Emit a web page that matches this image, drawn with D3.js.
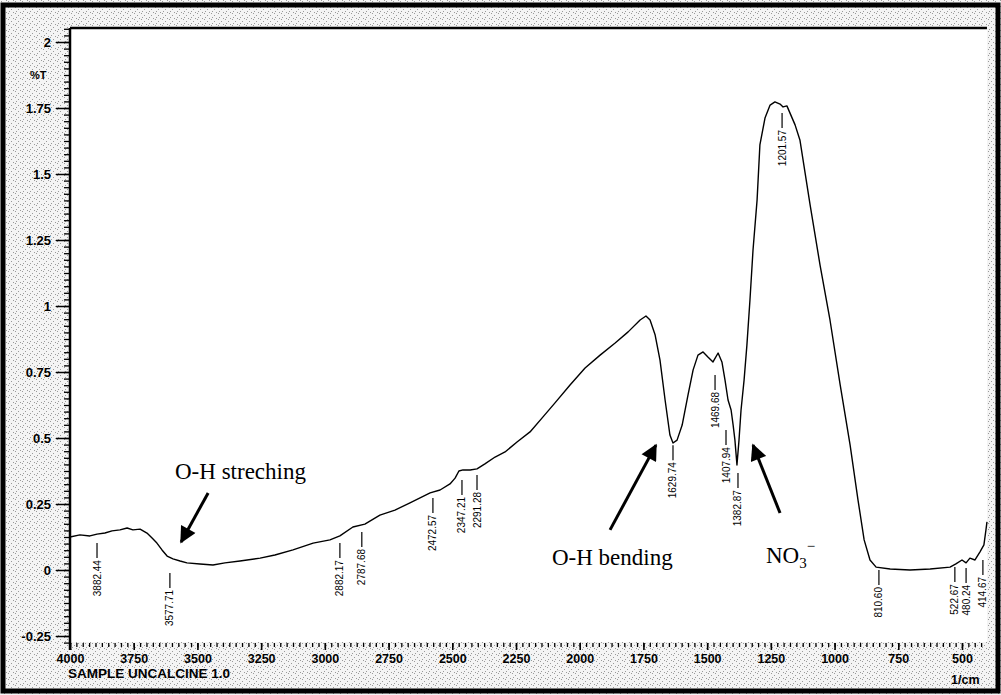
<!DOCTYPE html>
<html><head><meta charset="utf-8">
<script src="https://cdn.jsdelivr.net/npm/d3@7"></script>
<style>body{margin:0;background:#fff}svg{display:block}</style>
</head><body>
<script>
// ---- data ----
const wavenumbers = [4000,3961,3922,3894,3863,3835,3804,3776,3753,3725,3698,3678,3659,3639,3619,3596,3568,3541,3490,3439,3392,3333,3254,3196,3125,3046,2980,2941,2890,2843,2784,2725,2666,2587,2548,2509,2489,2474,2458,2430,2403,2372,2332,2293,2246,2195,2144,2097,2038,1979,1920,1861,1810,1763,1740,1724,1704,1685,1665,1646,1634,1618,1598,1575,1555,1536,1516,1497,1477,1457,1442,1430,1418,1406,1398,1391,1383,1375,1367,1355,1344,1332,1320,1304,1293,1273,1253,1234,1214,1202,1187,1155,1136,1096,1057,1018,978,939,908,884,861,837,782,704,625,547,524,500,484,469,449,430,414,406,402];
const transmittance = [0.125,0.133,0.129,0.136,0.140,0.148,0.152,0.159,0.152,0.155,0.140,0.121,0.102,0.076,0.053,0.042,0.034,0.027,0.023,0.019,0.027,0.034,0.045,0.057,0.076,0.102,0.114,0.129,0.163,0.174,0.208,0.227,0.254,0.292,0.303,0.326,0.348,0.375,0.379,0.379,0.383,0.402,0.428,0.447,0.485,0.523,0.580,0.633,0.701,0.765,0.814,0.860,0.902,0.947,0.962,0.947,0.890,0.795,0.644,0.511,0.481,0.492,0.549,0.663,0.758,0.814,0.826,0.807,0.788,0.822,0.788,0.720,0.644,0.606,0.549,0.492,0.398,0.492,0.606,0.720,0.852,1.023,1.212,1.402,1.610,1.712,1.761,1.773,1.765,1.754,1.758,1.686,1.629,1.383,1.155,0.947,0.701,0.473,0.265,0.114,0.038,0.011,0.004,0.000,0.004,0.011,0.023,0.038,0.027,0.045,0.038,0.068,0.095,0.152,0.182];

const yTickValues = [-0.25,0,0.25,0.5,0.75,1,1.25,1.5,1.75,2];
const yTickLabels = ["-0.25","0","0.25","0.5","0.75","1","1.25","1.5","1.75","2"];
const xTickValues = [4000,3750,3500,3250,3000,2750,2500,2250,2000,1750,1500,1250,1000,750,500];
const xTickLabels = ["4000","3750","3500","3250","3000","2750","2500","2250","2000","1750","1500","1250","1000","750","500"];

const peakTexts     = ["3882.44","3577.71","2882.17","2787.68","2472.57","2347.21","2291.28","1629.74","1469.68","1407.94","1382.87","1201.57","810.60","522.67","480.24","414.67"];
const peakPositions = [3894,3608,2941,2855,2576,2462,2403,1634,1469,1426,1379,1206,826,528,484,418];
const peakTops      = [0.102,-0.011,0.102,0.144,0.273,0.341,0.360,0.473,0.739,0.530,0.367,1.731,0.0,0.011,0.008,0.038];

const annoTexts = ["O-H streching","O-H bending"];
const annoPos   = [[3588,0.345],[2109,0.019]];
const arrowTails = [[3458,0.292],[1881,0.152],[1214,0.216]];
const arrowHeads = [[3564,0.106],[1701,0.473],[1320,0.473]];
const nitratePos = [1269,0.027];

// ---- layout ----
const W = 1001, H = 695;
const x = d3.scaleLinear().domain([4000,500]).range([70,962]);
const y = d3.scaleLinear().domain([0,2]).range([570,42]);
const plotRight = x(402), plotTop = 28, plotBottom = 642;

const svg = d3.select("body").append("svg").attr("width",W).attr("height",H);
const defs = svg.append("defs");
const pat = defs.append("pattern").attr("id","speck").attr("width",7).attr("height",6).attr("patternUnits","userSpaceOnUse");
pat.append("rect").attr("width",7).attr("height",6).attr("fill","#f4f4f4");
[[1,1],[4,3],[2,5],[6,0]].forEach(p=>pat.append("rect").attr("x",p[0]).attr("y",p[1]).attr("width",1).attr("height",1).attr("fill","#9a9a9a"));
defs.append("marker").attr("id","ah").attr("viewBox","0 0 10 10").attr("refX",9).attr("refY",5)
  .attr("markerWidth",6).attr("markerHeight",5.5).attr("orient","auto").attr("markerUnits","strokeWidth")
  .append("path").attr("d","M0,0 L10,5 L0,10 Z").attr("fill","#000");

svg.append("rect").attr("width",W).attr("height",H).attr("fill","url(#speck)");
svg.append("rect").attr("x",x(4000)).attr("y",plotTop).attr("width",plotRight-x(4000)).attr("height",plotBottom-plotTop).attr("fill","#fff");
// outer frame
svg.append("rect").attr("x",3).attr("y",5).attr("width",W-6).attr("height",H-9).attr("fill","none").attr("stroke","#000").attr("stroke-width",5);
// top border line
svg.append("line").attr("x1",x(4000)).attr("x2",plotRight).attr("y1",plotTop).attr("y2",plotTop).attr("stroke","#000").attr("stroke-width",2.5);

const boldFont = "'Liberation Sans', Arial, sans-serif";

// y axis
const gy = svg.append("g").attr("transform",`translate(${x(4000)},0)`);
gy.call(d3.axisLeft(y).tickValues(d3.range(-0.275,2.06,0.025)).tickSize(6).tickFormat(""))
  .call(g=>g.select(".domain").remove());
gy.selectAll(".tick line").attr("stroke","#000").attr("stroke-width",1.3);
const gy2 = svg.append("g").attr("transform",`translate(${x(4000)},0)`);
gy2.call(d3.axisLeft(y).tickValues(yTickValues).tickSize(14).tickPadding(5).tickFormat((d,i)=>yTickLabels[i]))
  .call(g=>g.select(".domain").remove());
gy2.selectAll(".tick line").attr("stroke","#000").attr("stroke-width",1.5);
gy2.selectAll(".tick text").attr("font-family",boldFont).attr("font-weight","bold").attr("font-size",13).attr("fill","#000");
svg.append("line").attr("x1",x(4000)).attr("x2",x(4000)).attr("y1",plotTop).attr("y2",650).attr("stroke","#000").attr("stroke-width",2.5);
svg.append("text").attr("x",30).attr("y",79).attr("font-family",boldFont).attr("font-weight","bold").attr("font-size",11).text("%T");

// x axis
const gx = svg.append("g").attr("transform",`translate(0,${plotBottom+1})`);
gx.call(d3.axisBottom(x).tickValues(d3.range(4000,401,-25)).tickSize(4).tickFormat(""))
  .call(g=>g.select(".domain").remove());
gx.selectAll(".tick line").attr("stroke","#000").attr("stroke-width",1.3);
const gx2 = svg.append("g").attr("transform",`translate(0,${plotBottom+1})`);
gx2.call(d3.axisBottom(x).tickValues(xTickValues).tickSize(7).tickPadding(4).tickFormat((d,i)=>xTickLabels[i]))
  .call(g=>g.select(".domain").remove());
gx2.selectAll(".tick line").attr("stroke","#000").attr("stroke-width",1.6);
gx2.selectAll(".tick text").attr("font-family",boldFont).attr("font-weight","bold").attr("font-size",12.5).attr("fill","#000");
svg.append("text").attr("x",68).attr("y",678).attr("font-family",boldFont).attr("font-weight","bold").attr("font-size",13.5).text("SAMPLE UNCALCINE 1.0");
svg.append("text").attr("x",951).attr("y",684).attr("font-family",boldFont).attr("font-weight","bold").attr("font-size",12.5).text("1/cm");

// spectrum
const pts = wavenumbers.map((w,i)=>[w,transmittance[i]]);
svg.append("path").datum(pts)
  .attr("d",d3.line().x(d=>x(d[0])).y(d=>y(d[1])))
  .attr("fill","none").attr("stroke","#000").attr("stroke-width",1.4).attr("stroke-linejoin","round");

// peak labels
const lineLen = 15;
peakTexts.forEach((t,i)=>{
  const px = x(peakPositions[i]), py = y(peakTops[i]);
  svg.append("line").attr("x1",px).attr("x2",px).attr("y1",py).attr("y2",py+lineLen).attr("stroke","#000").attr("stroke-width",1.2);
  svg.append("text").attr("transform",`translate(${px+3.5},${py+lineLen+2}) rotate(-90)`)
    .attr("text-anchor","end").attr("font-family","'Liberation Sans', Arial, sans-serif").attr("font-size",10)
    .attr("fill","#000").text(t);
});

// annotations
const serif = "'Liberation Serif','Times New Roman',serif";
annoTexts.forEach((t,i)=>{
  svg.append("text").attr("x",x(annoPos[i][0])).attr("y",y(annoPos[i][1]))
    .attr("font-family",serif).attr("font-size",23).attr("fill","#000").text(t);
});
const no3 = svg.append("text").attr("x",x(nitratePos[0])).attr("y",y(nitratePos[1]))
  .attr("font-family",serif).attr("font-size",23).attr("fill","#000");
no3.append("tspan").text("NO");
no3.append("tspan").attr("font-size",15).attr("dy",5).text("3");
no3.append("tspan").attr("font-size",15).attr("dy",-17).text("\u2212");
arrowTails.forEach((tl,i)=>{
  svg.append("line").attr("x1",x(tl[0])).attr("y1",y(tl[1])).attr("x2",x(arrowHeads[i][0])).attr("y2",y(arrowHeads[i][1]))
    .attr("stroke","#000").attr("stroke-width",3).attr("marker-end","url(#ah)");
});
</script>
</body></html>
